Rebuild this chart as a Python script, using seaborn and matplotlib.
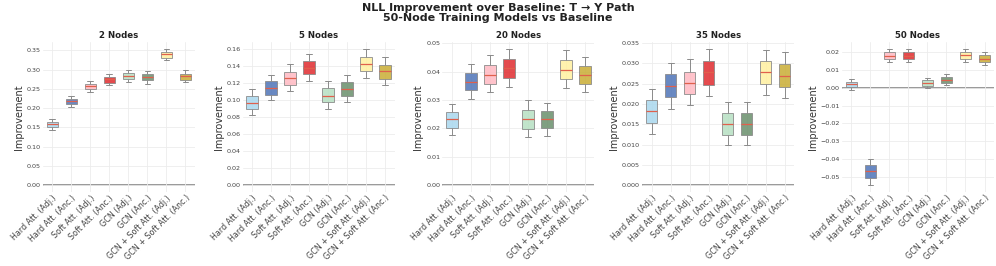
import numpy as np
import pandas as pd
import matplotlib
matplotlib.use("Agg")
import matplotlib.pyplot as plt
import seaborn as sns

models = ["Hard Att. (Adj.)", "Hard Att. (Anc.)", "Soft Att. (Adj.)", "Soft Att. (Anc.)",
          "GCN (Adj.)", "GCN (Anc.)", "GCN + Soft Att. (Adj.)", "GCN + Soft Att. (Anc.)"]
colors = ["#a9d8ee", "#4f74b8", "#ffb9c2", "#e02b2f", "#b6e0c2", "#6a8f6c", "#fff0a0", "#c9ad35"]
panel_titles = ["2 Nodes", "5 Nodes", "20 Nodes", "35 Nodes", "50 Nodes"]

# per box: [lower whisker, Q1, median, Q3, upper whisker]
nodes2 = [
    [0.144, 0.151, 0.158, 0.164, 0.171],
    [0.203, 0.210, 0.218, 0.223, 0.232],
    [0.242, 0.250, 0.257, 0.264, 0.270],
    [0.259, 0.266, 0.275, 0.281, 0.290],
    [0.269, 0.276, 0.284, 0.292, 0.300],
    [0.264, 0.272, 0.282, 0.290, 0.296],
    [0.324, 0.331, 0.340, 0.347, 0.354],
    [0.267, 0.274, 0.283, 0.290, 0.299],
]
nodes5 = [
    [0.0822, 0.0892, 0.0966, 0.1045, 0.1130],
    [0.0998, 0.1060, 0.1138, 0.1217, 0.1295],
    [0.1100, 0.1174, 0.1256, 0.1334, 0.1420],
    [0.1225, 0.1300, 0.1380, 0.1460, 0.1545],
    [0.0900, 0.0974, 0.1050, 0.1135, 0.1217],
    [0.0980, 0.1050, 0.1130, 0.1210, 0.1290],
    [0.1260, 0.1340, 0.1424, 0.1510, 0.1600],
    [0.1180, 0.1250, 0.1338, 0.1416, 0.1500],
]
nodes20 = [
    [0.0176, 0.0203, 0.0232, 0.0259, 0.0287],
    [0.0304, 0.0334, 0.0363, 0.0395, 0.0427],
    [0.0327, 0.0357, 0.0388, 0.0422, 0.0460],
    [0.0345, 0.0378, 0.0411, 0.0445, 0.0480],
    [0.0170, 0.0199, 0.0232, 0.0266, 0.0299],
    [0.0173, 0.0201, 0.0232, 0.0260, 0.0289],
    [0.0343, 0.0374, 0.0406, 0.0439, 0.0477],
    [0.0328, 0.0357, 0.0388, 0.0420, 0.0453],
]
nodes35 = [
    [0.0125, 0.0153, 0.0182, 0.0209, 0.0237],
    [0.0189, 0.0217, 0.0244, 0.0273, 0.0301],
    [0.0198, 0.0225, 0.0252, 0.0280, 0.0310],
    [0.0219, 0.0248, 0.0278, 0.0307, 0.0336],
    [0.0098, 0.0124, 0.0150, 0.0178, 0.0206],
    [0.0099, 0.0124, 0.0150, 0.0178, 0.0206],
    [0.0222, 0.0250, 0.0278, 0.0305, 0.0334],
    [0.0216, 0.0242, 0.0270, 0.0299, 0.0328],
]
nodes50 = [
    [-0.0015, 0.0007, 0.0019, 0.0034, 0.0049],
    [-0.0548, -0.0508, -0.0469, -0.0434, -0.0400],
    [0.0146, 0.0163, 0.0181, 0.0200, 0.0219],
    [0.0146, 0.0163, 0.0181, 0.0200, 0.0219],
    [-0.0002, 0.0011, 0.0026, 0.0041, 0.0056],
    [0.0013, 0.0028, 0.0045, 0.0060, 0.0075],
    [0.0146, 0.0163, 0.0183, 0.0200, 0.0219],
    [0.0129, 0.0144, 0.0164, 0.0183, 0.0202],
]
panels = [nodes2, nodes5, nodes20, nodes35, nodes50]

sns.set_theme(style="whitegrid")
plt.rcParams["font.family"] = ["DejaVu Sans"]

fig, axes = plt.subplots(1, 5, figsize=(9.96, 2.66), dpi=100)
fig.subplots_adjust(left=0.043, right=0.998, top=0.842, bottom=0.278, wspace=0.314)

for ax, title, boxes in zip(axes, panel_titles, panels):
    rows = []
    for m, vals in zip(models, boxes):
        for v in vals:
            rows.append({"Model": m, "Improvement": v})
    df = pd.DataFrame(rows)
    sns.boxplot(data=df, x="Model", y="Improvement", hue="Model", order=models,
                hue_order=models, palette=colors, legend=False, ax=ax, width=0.6,
                saturation=1, linecolor="#8a8a8a", linewidth=0.7, fliersize=0,
                boxprops=dict(alpha=0.85),
                medianprops=dict(color="#e0604c", linewidth=0.9),
                whiskerprops=dict(color="#8a8a8a"), capprops=dict(color="#8a8a8a"))
    ax.axhline(0, color="#999999", linewidth=1.4, zorder=0.5)
    ax.set_title(title, fontsize=6.2, fontweight="bold", pad=3, color="#222222")
    ax.set_xlabel("")
    ax.set_ylabel("Improvement", fontsize=7, labelpad=2, color="#333333")
    ax.tick_params(axis="y", labelsize=4.6, pad=1.5, length=0, colors="#444444")
    ax.tick_params(axis="x", labelsize=5.8, pad=1, length=0, colors="#444444")
    plt.setp(ax.get_xticklabels(), rotation=45, ha="right", rotation_mode="anchor")
    ax.grid(True, color="#ececec", linewidth=0.6)
    for s in ax.spines.values():
        s.set_visible(False)

fig.suptitle("NLL Improvement over Baseline: T \u2192 Y Path\n50-Node Training Models vs Baseline",
             fontsize=8.0, fontweight="bold", y=0.99, color="#222222", linespacing=1.1)

fig.savefig("out.png", dpi=100)
